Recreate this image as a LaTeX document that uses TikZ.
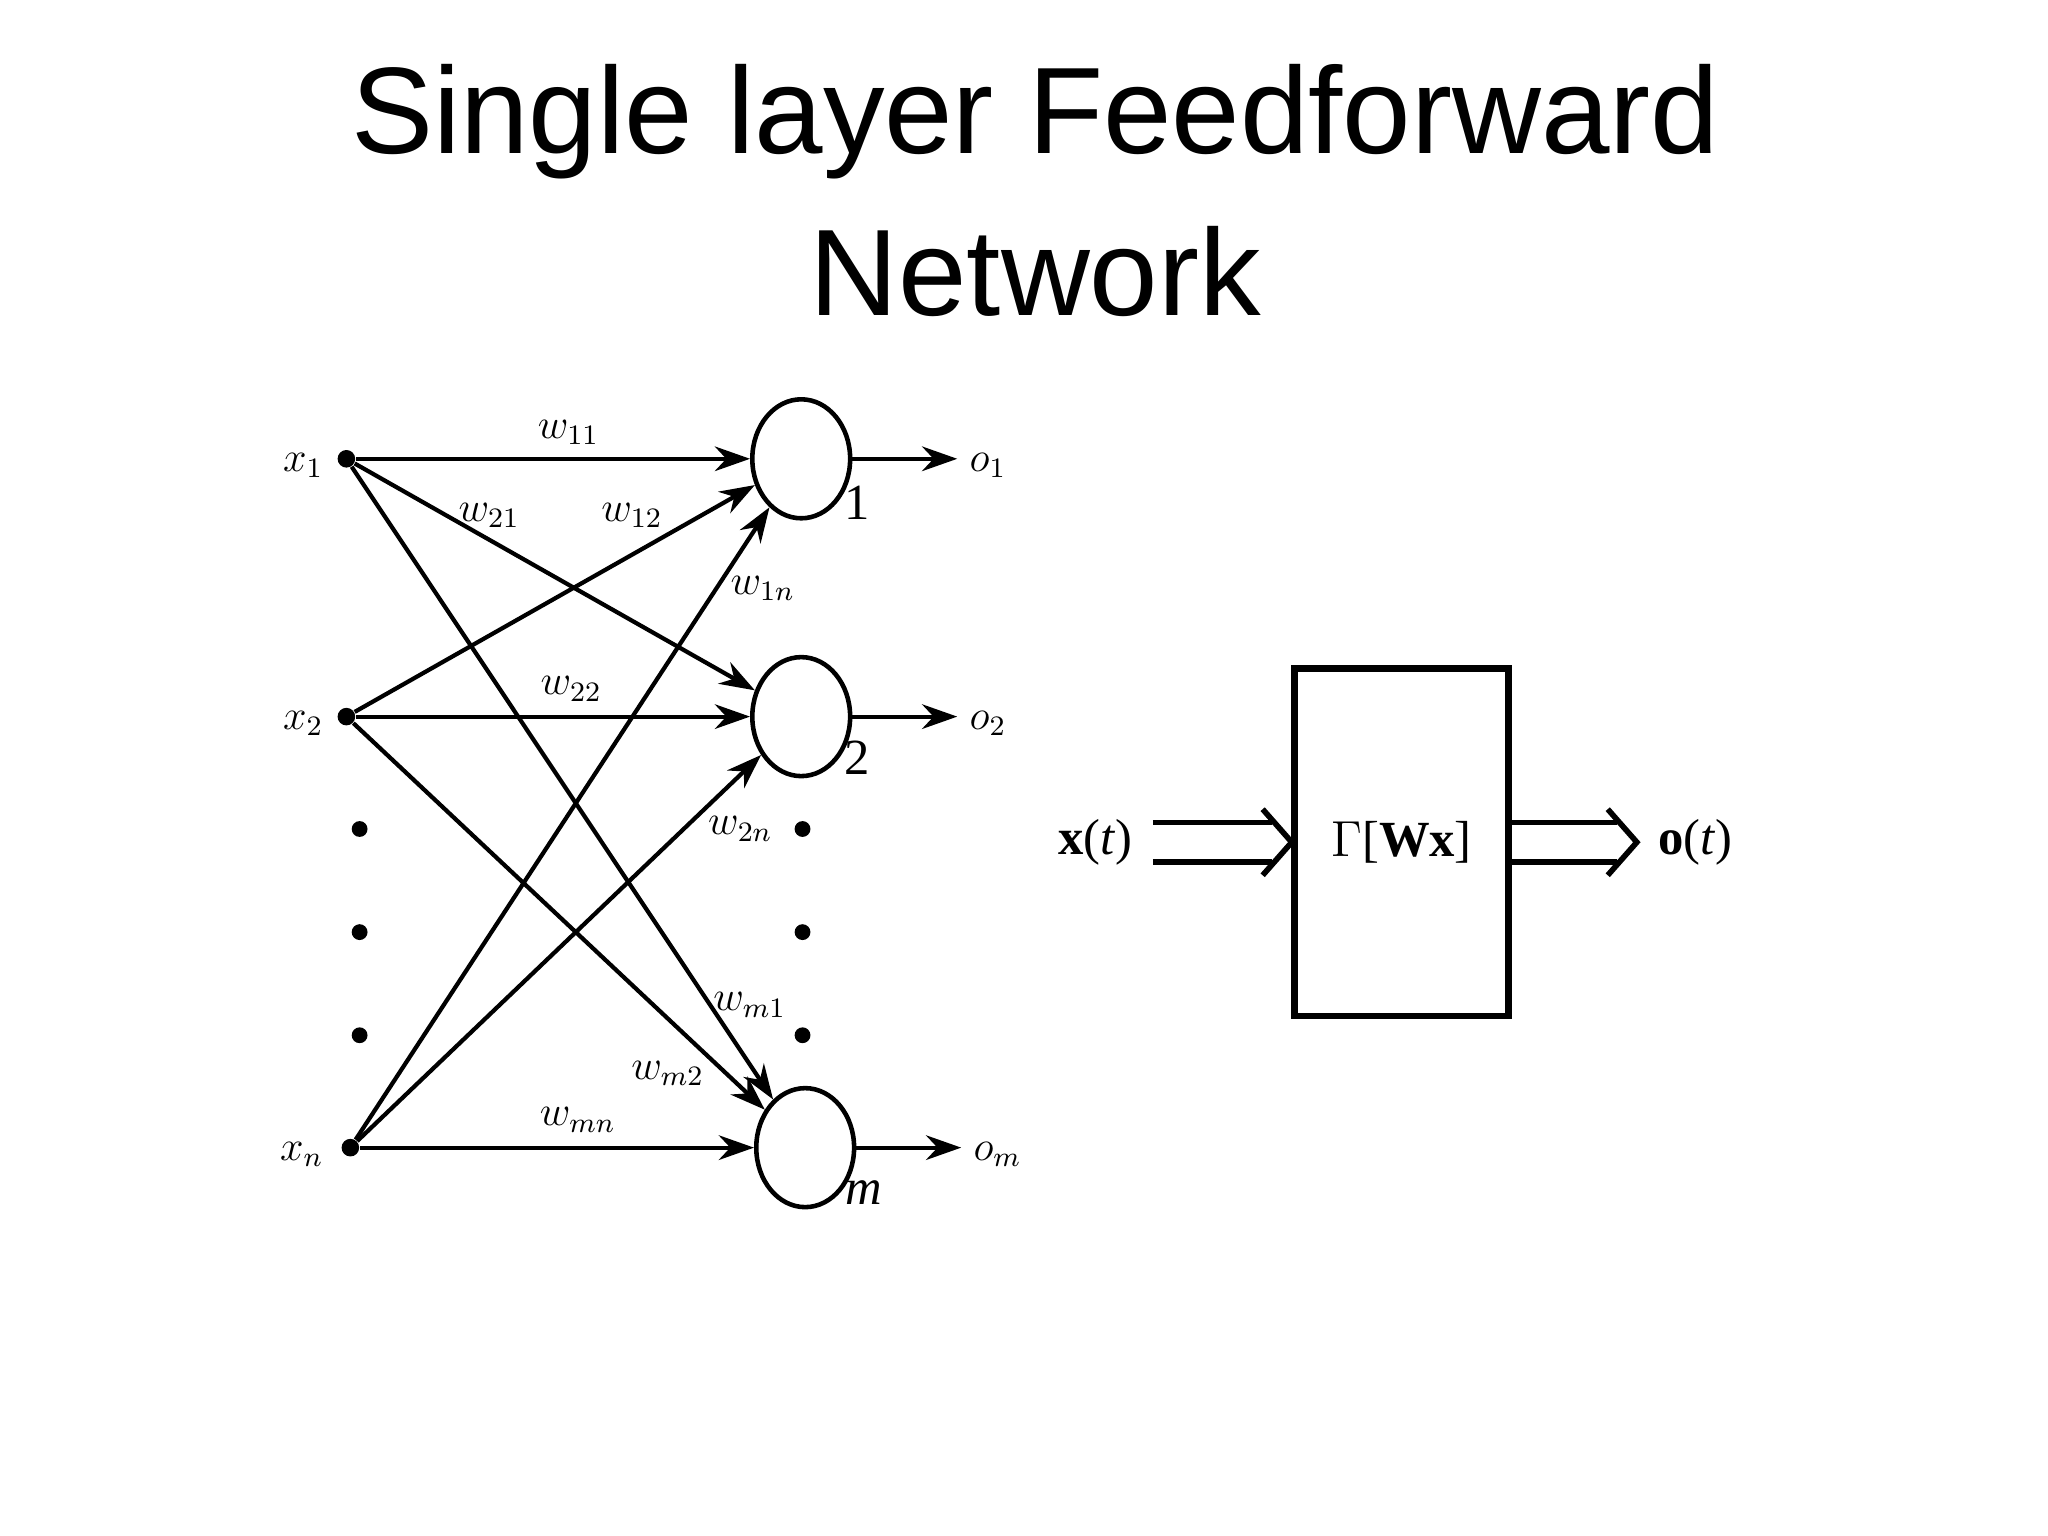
\documentclass[tikz,border=0pt]{standalone}
\usepackage{fontspec}
\setmainfont{Liberation Sans}
\newfontfamily\serifa{Liberation Serif}
\usetikzlibrary{arrows.meta,shapes.geometric}
\begin{document}
\begin{tikzpicture}[x=0.01322cm,y=-0.01322cm,
  inp/.style={circle,fill,inner sep=0pt,minimum size=5pt},
  neu/.style={ellipse,draw,line width=1.3pt,inner sep=0pt,minimum width=74*0.01322cm,minimum height=90*0.01322cm},
  con/.style={line width=1.2pt,-{Stealth[length=10pt,width=7pt]}},
  lbl/.style={font=\serifa\large},
  dot/.style={circle,fill,inner sep=0pt,minimum size=4.5pt}]
\useasboundingbox (0,0) rectangle (1549,1161);
\node[font=\fontsize{35}{40}\selectfont] (t1) at (783,92) {Single layer Feedforward};
\node[font=\fontsize{35}{40}\selectfont] (t2) at (783,205) {Network};
% inputs
\node[inp] (x1) at (262,347) {};
\node[inp] (x2) at (262,542) {};
\node[inp] (xn) at (265,868) {};
\node[lbl,anchor=east] (lx1) at (254,352) {$x_1$};
\node[lbl,anchor=east] (lx2) at (254,547) {$x_2$};
\node[lbl,anchor=east] (lxn) at (254,873) {$x_n$};
% neurons
\node[neu] (n1) at (606,347) {};
\node[neu] (n2) at (606,542) {};
\node[neu] (nm) at (609,868) {};
\node[lbl,font=\serifa\Large] (l1) at (648,380) {1};
\node[lbl,font=\serifa\Large] (l2) at (648,573) {2};
\node[lbl,font=\serifa\Large\itshape] (lm) at (653,902) {m};
% dots
\foreach \y/\k in {627/a,705/b,783/c}{
  \node[dot] (dl\k) at (272,\y) {};
  \node[dot] (dr\k) at (607,\y) {};
}
% connections
\foreach \i in {x1,x2,xn}{
  \foreach \j in {n1,n2,nm}{
    \draw[con] (\i) -- (\j);
  }
}
% outputs
\coordinate (o1) at (724,347);
\coordinate (o2) at (724,542);
\coordinate (om) at (727,868);
\draw[con] (n1) -- (o1);
\draw[con] (n2) -- (o2);
\draw[con] (nm) -- (om);
\node[lbl,anchor=west] (lo1) at (724,352) {$o_1$};
\node[lbl,anchor=west] (lo2) at (724,547) {$o_2$};
\node[lbl,anchor=west] (lom) at (727,873) {$o_m$};
% weights
\node[lbl] at (430,327) {$w_{11}$};
\node[lbl] at (370,390) {$w_{21}$};
\node[lbl] at (478,390) {$w_{12}$};
\node[lbl] at (577,445) {$w_{1n}$};
\node[lbl] at (432,521) {$w_{22}$};
\node[lbl] at (560,627) {$w_{2n}$};
\node[lbl] at (567,760) {$w_{m1}$};
\node[lbl] at (505,812) {$w_{m2}$};
\node[lbl] at (437,847) {$w_{mn}$};
% block
\node[draw,line width=1.8pt,minimum width=162*0.01322cm,minimum height=263*0.01322cm] (box) at (1060,637) {};
\node[font=\serifa\Large] (bt) at (1060,637) {$\Gamma$[\textbf{Wx}]};
\node[font=\serifa\Large,anchor=east] (xt) at (866,637) {\textbf{x}(\textit{t})};
\node[font=\serifa\Large,anchor=west] (ot) at (1245,637) {\textbf{o}(\textit{t})};
\begin{scope}[line width=1.6pt,line join=miter]
\draw (872,622) -- (962,622) (872,652) -- (962,652);
\draw (955,612) -- (977,637) -- (955,662);
\draw (1143,622) -- (1223,622) (1143,652) -- (1223,652);
\draw (1216,612) -- (1238,637) -- (1216,662);
\end{scope}
\end{tikzpicture}
\end{document}
